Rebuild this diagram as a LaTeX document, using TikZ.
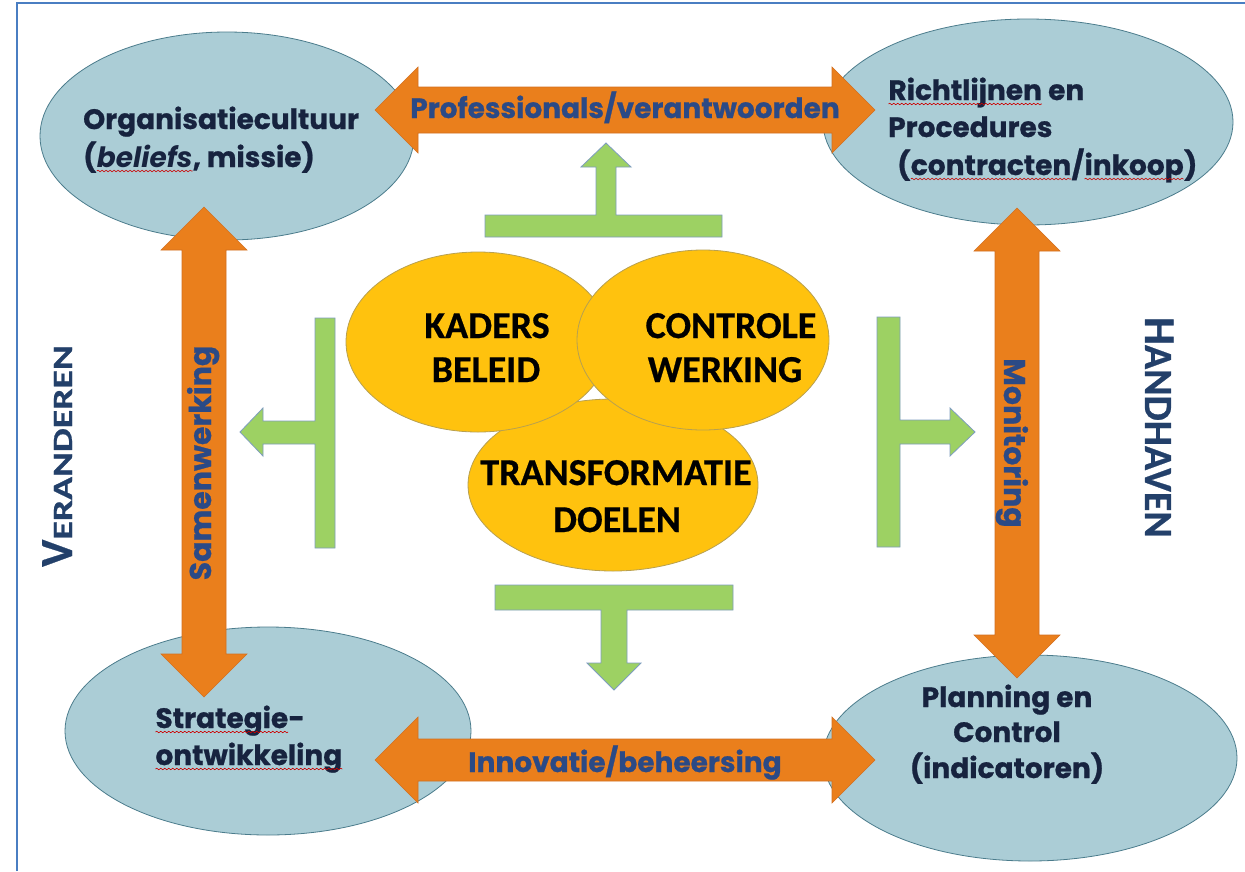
\documentclass[tikz,border=0pt]{standalone}
\usepackage{fontspec}
\usepackage{graphicx}
\usetikzlibrary{decorations.pathmorphing,shapes.geometric}
\newfontfamily\geo{Poppins}[BoldFeatures={FakeBold=0.8}]
\newfontfamily\calfont{Carlito}[BoldFeatures={FakeBold=0.6}]
\definecolor{bordblue}{HTML}{4A7EC2}
\definecolor{ellfill}{HTML}{ABCDD6}
\definecolor{elldraw}{HTML}{4B7C8C}
\definecolor{orng}{HTML}{EA7F1C}
\definecolor{orngd}{HTML}{D27020}
\definecolor{grn}{HTML}{9DD163}
\definecolor{grnd}{HTML}{7E9DBF}
\definecolor{yel}{HTML}{FFC20E}
\definecolor{yeld}{HTML}{B8A050}
\definecolor{navy}{HTML}{17233F}
\definecolor{arrtxt}{HTML}{2B4A86}
\definecolor{sidetxt}{HTML}{23406A}
\newcommand\wavy[1]{\tikz[baseline=(w.base)]{\node[inner sep=0pt,outer sep=0pt,anchor=base](w){#1};\draw[red!80!black,line width=0.6pt,decorate,decoration={snake,amplitude=0.8pt,segment length=4pt}]([yshift=-4pt]w.base west)--([yshift=-4pt]w.base east);}}
\tikzset{
  bluell/.style={ellipse, fill=ellfill, draw=elldraw, line width=0.8pt},
  yell/.style={ellipse, fill=yel, draw=yeld, line width=0.8pt},
  orarrow/.style={fill=orng, draw=orngd, line width=0.6pt},
  grarrow/.style={fill=grn, draw=grnd, line width=0.8pt},
  lab/.style={inner sep=0pt, text=navy, font=\geo\bfseries\fontsize{28}{32}\selectfont},
  arrlab/.style={inner sep=0pt, text=arrtxt, font=\geo\bfseries\fontsize{28}{32}\selectfont},
  varrlab/.style={inner sep=0pt, text=arrtxt, font=\geo\bfseries\fontsize{30}{34}\selectfont},
  ctr/.style={inner sep=0pt, text=black, font=\calfont\bfseries\fontsize{38}{44}\selectfont},
  side/.style={inner sep=0pt, text=sidetxt, font=\calfont\bfseries},
}
\begin{document}
\begin{tikzpicture}[x=1pt,y=-1pt]
\useasboundingbox (0,0) rectangle (1245,871);
\fill[white] (0,0) rectangle (1245,871);
\draw[bordblue, line width=2pt] (17,871) -- (17,3) -- (1245,3);

% blue ellipses
\node[bluell, minimum width=374pt, minimum height=208pt] (OC) at (227,136) {};
\node[bluell, minimum width=410pt, minimum height=206pt] (RP) at (1028,122) {};
\node[bluell, minimum width=406pt, minimum height=208pt] (SO) at (268,731) {};
\node[bluell, minimum width=414pt, minimum height=206pt] (PC) at (1030,758) {};

% orange double arrows
\draw[orarrow] (375,110) -- (418,67) -- (418,87) -- (832,87) -- (832,67) -- (875,110)
  -- (832,153) -- (832,133) -- (418,133) -- (418,153) -- cycle;
\draw[orarrow] (375,760) -- (418,717) -- (418,739) -- (832,739) -- (832,717) -- (875,760)
  -- (832,803) -- (832,781) -- (418,781) -- (418,803) -- cycle;
\draw[orarrow] (204,207) -- (247,250) -- (226,250) -- (226,654) -- (247,654) -- (204,697)
  -- (161,654) -- (182,654) -- (182,250) -- (161,250) -- cycle;
\draw[orarrow] (1017,208) -- (1060,251) -- (1039,251) -- (1039,635) -- (1060,635) -- (1017,678)
  -- (974,635) -- (995,635) -- (995,251) -- (974,251) -- cycle;

% green T arrows
\draw[grarrow] (485,237) -- (722,237) -- (722,215) -- (616,215) -- (616,167) -- (631,167)
  -- (606,143) -- (581,167) -- (596,167) -- (596,215) -- (485,215) -- cycle;
\draw[grarrow] (495,585) -- (733,585) -- (733,610) -- (627,610) -- (627,663) -- (641,663)
  -- (614,690) -- (587,663) -- (601,663) -- (601,610) -- (495,610) -- cycle;
\draw[grarrow] (335,318) -- (335,548) -- (315,548) -- (315,444) -- (263,444) -- (263,456)
  -- (240,432) -- (263,408) -- (263,421) -- (315,421) -- (315,318) -- cycle;
\draw[grarrow] (877,317) -- (877,547) -- (900,547) -- (900,444) -- (950,444) -- (950,456)
  -- (975,432) -- (950,408) -- (950,420) -- (900,420) -- (900,317) -- cycle;

% yellow ellipses
\node[yell, minimum width=290pt, minimum height=172pt] (TD) at (613,485) {};
\node[yell, minimum width=264pt, minimum height=180pt] (KB) at (478,342) {};
\node[yell, minimum width=252pt, minimum height=180pt] (CW) at (703,340) {};

% central texts
\node[ctr, anchor=base] (kb1) at (487,338) {KADERS};
\node[ctr, anchor=base] (kb2) at (486,382) {BELEID};
\node[ctr, anchor=base] (cw1) at (731,338) {CONTROLE};
\node[ctr, anchor=base] (cw2) at (725,382) {WERKING};
\node[ctr, anchor=base] (td1) at (616,485) {TRANSFORMATIE};
\node[ctr, anchor=base] (td2) at (617,532) {DOELEN};

% ellipse labels
\node[lab, anchor=base west] (oc1) at (83,129) {Organisatiecultuur};
\node[lab, anchor=base west] (oc2) at (83,167) {(\wavy{\itshape beliefs}, missie)};
\node[lab, anchor=base west] (rp1) at (888,100) {\wavy{Richtlijnen} en};
\node[lab, anchor=base west] (rp2) at (888,137) {Procedures};
\node[lab, anchor=base west] (rp3) at (897,175) {(\wavy{contracten}/\wavy{inkoop})};
\node[lab, anchor=base west] (so1) at (155,728) {\wavy{Strategie}-};
\node[lab, anchor=base west] (so2) at (155,765) {\wavy{ontwikkeling}};
\node[lab, anchor=base] (pc1) at (1007,707) {Planning en};
\node[lab, anchor=base] (pc2) at (1007,742) {Control};
\node[lab, anchor=base] (pc3) at (1007,778) {(indicatoren)};

% arrow labels
\node[arrlab, anchor=base] (al1) at (625,118) {Professionals/verantwoorden};
\node[arrlab, anchor=base] (al2) at (625,772) {Innovatie/beheersing};
\node[varrlab, anchor=base, rotate=90] (al3) at (211,463) {Samenwerking};
\node[varrlab, anchor=base, rotate=-90] (al4) at (1004,443) {Monitoring};

% side titles
\node[side, anchor=base west, rotate=90] (ver) at (72,567) {\fontsize{46}{50}\selectfont V\fontsize{28}{30}\selectfont\scalebox{1.35}[1]{ERANDEREN}};
\node[side, anchor=base west, rotate=-90] (han) at (1145,317) {\fontsize{44}{48}\selectfont H\fontsize{40}{44}\selectfont ANDHAVEN};
\end{tikzpicture}
\end{document}
